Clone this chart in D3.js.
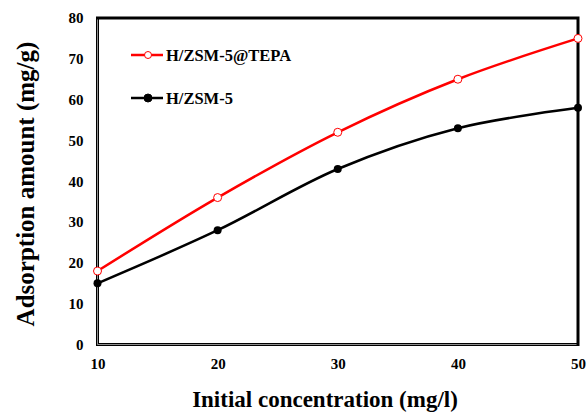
<!DOCTYPE html>
<html>
<head>
<meta charset="utf-8">
<script src="https://cdn.jsdelivr.net/npm/d3@7"></script>
<style>
  body { margin: 0; background: #fff; }
  text { font-family: "Liberation Serif", "Times New Roman", serif; font-weight: bold; }
</style>
</head>
<body>
<div id="chart"></div>
<script>
// donnees
var concentrations = [10, 20, 30, 40, 50];
var tepaValues = [18, 36, 52, 65, 75];   // H/ZSM-5@TEPA
var zsmValues = [15, 28, 43, 53, 58];    // H/ZSM-5
var yTicks = [0, 10, 20, 30, 40, 50, 60, 70, 80];
var xTicks = [10, 20, 30, 40, 50];

var width = 587,
    height = 416;

// bords de la zone de trace
var plotLeft = 97.5, plotRight = 578, plotTop = 18, plotBottom = 344.5;

var svg = d3.select("#chart").append("svg")
    .attr("width", width)
    .attr("height", height);

var x = d3.scaleLinear().domain([10, 50]).range([plotLeft, plotRight]);
var y = d3.scaleLinear().domain([0, 80]).range([plotBottom, plotTop]);

// cadre
svg.append("rect")
    .attr("x", plotLeft)
    .attr("y", plotTop)
    .attr("width", plotRight - plotLeft)
    .attr("height", plotBottom - plotTop)
    .attr("fill", "none")
    .attr("stroke", "#000")
    .attr("stroke-width", 3);

// filet clair dans les axes gauche et bas
svg.append("path")
    .attr("d", "M" + plotLeft + "," + (plotTop + 1.5) + "V" + plotBottom + "H" + (plotRight - 1.5))
    .attr("fill", "none")
    .attr("stroke", "#ccc")
    .attr("stroke-width", 0.7);

// axes (labels seulement)
var yAxis = d3.axisLeft(y).tickValues(yTicks).tickSize(0).tickPadding(14);
var gy = svg.append("g").attr("transform", "translate(" + plotLeft + ",0)").call(yAxis);
gy.select(".domain").remove();
gy.selectAll("text").attr("font-size", 15).attr("fill", "#000");

var xAxis = d3.axisBottom(x).tickValues(xTicks).tickSize(0).tickPadding(14);
var gx = svg.append("g").attr("transform", "translate(0," + plotBottom + ")").call(xAxis);
gx.select(".domain").remove();
gx.selectAll("text").attr("font-size", 15).attr("fill", "#000");

// titres
svg.append("text")
    .attr("x", 325)
    .attr("y", 407)
    .attr("text-anchor", "middle")
    .attr("font-size", 23)
    .text("Initial concentration (mg/l)");

svg.append("text")
    .attr("transform", "translate(34,184) rotate(-90)")
    .attr("text-anchor", "middle")
    .attr("font-size", 25)
    .text("Adsorption amount (mg/g)");

// courbes
var line = d3.line()
    .x(function(d, i) { return x(concentrations[i]); })
    .y(function(d) { return y(d); })
    .curve(d3.curveCatmullRom);

svg.append("path")
    .attr("d", line(zsmValues))
    .attr("fill", "none")
    .attr("stroke", "#000")
    .attr("stroke-width", 2.5);

svg.selectAll(".pt-zsm")
    .data(zsmValues)
    .enter()
    .append("circle")
    .attr("cx", function(d, i) { return x(concentrations[i]); })
    .attr("cy", function(d) { return y(d); })
    .attr("r", 4)
    .attr("fill", "#000");

svg.append("path")
    .attr("d", line(tepaValues))
    .attr("fill", "none")
    .attr("stroke", "#ff0000")
    .attr("stroke-width", 2.5);

svg.selectAll(".pt-tepa")
    .data(tepaValues)
    .enter()
    .append("circle")
    .attr("cx", function(d, i) { return x(concentrations[i]); })
    .attr("cy", function(d) { return y(d); })
    .attr("r", 4)
    .attr("fill", "#fff")
    .attr("stroke", "#ff0000")
    .attr("stroke-width", 1);

// legende
var legend = [
    { name: "H/ZSM-5@TEPA", color: "#ff0000", filled: false, y: 55 },
    { name: "H/ZSM-5", color: "#000", filled: true, y: 98 }
];
legend.forEach(function(l) {
    svg.append("line")
        .attr("x1", 131).attr("x2", 163)
        .attr("y1", l.y).attr("y2", l.y)
        .attr("stroke", l.color)
        .attr("stroke-width", 2.5);
    svg.append("circle")
        .attr("cx", 148).attr("cy", l.y).attr("r", l.filled ? 4 : 3.5)
        .attr("fill", l.filled ? l.color : "#fff")
        .attr("stroke", l.color)
        .attr("stroke-width", 1);
    svg.append("text")
        .attr("x", 166)
        .attr("y", l.y + 5.5)
        .attr("font-size", 16.5)
        .text(l.name);
});
</script>
</body>
</html>
